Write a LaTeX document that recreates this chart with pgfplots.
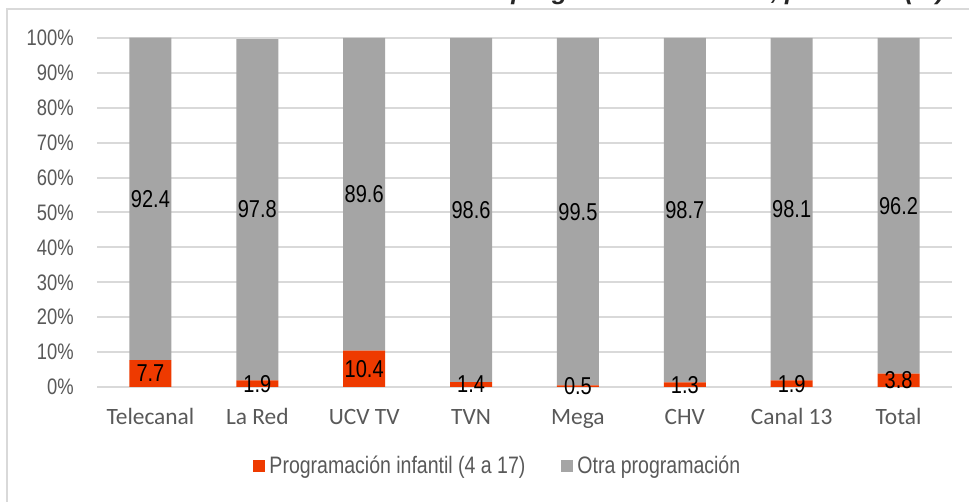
\documentclass[border=0pt]{standalone}
\usepackage{fontspec}
\usepackage{pgfplots}
\pgfplotsset{compat=1.18}
\newfontfamily\narrowfont{Liberation Sans}[FakeStretch=0.82]
\newfontfamily\calfont{Carlito}
\newfontfamily\titlefont{Liberation Sans}
\definecolor{infred}{RGB}{238,58,0}
\definecolor{otragray}{RGB}{165,165,165}
\definecolor{gridgray}{RGB}{217,217,217}
\definecolor{labgray}{RGB}{89,89,89}
\pgfplotsset{
  chartbox/.style={at={(48.5pt,57.5pt)}, anchor=south west,
    scale only axis, width=427.5pt, height=174.5pt,
    xmin=-0.5, xmax=7.5, ymin=0, ymax=100},
}

\begin{document}
\begin{tikzpicture}
\useasboundingbox (0,0) rectangle (484.5pt,251pt);
\fill[white] (0,0) rectangle (484.5pt,251pt);
% chart frame (only left and top edges are visible)
\draw[gridgray, line width=0.8pt] (3.5pt,0) -- (3.5pt,246.5pt) -- (484.5pt,246.5pt);
% title, cut off at the top of the picture
\begin{scope}
\clip (0,0) rectangle (484.5pt,251pt);
\node[anchor=base east, inner sep=0pt, text=black!85,
      font=\titlefont\bfseries\itshape\fontsize{12.7}{15}\selectfont]
  at (472.5pt,251.2pt) {Horas de emisión de programación infantil, por canal (\%)};
\end{scope}
\begin{axis}[
  chartbox,
  ybar stacked, bar width=21pt,
  xtick={0,...,7},
  xticklabels={Telecanal,La Red,UCV TV,TVN,Mega,CHV,Canal 13,Total},
  ytick={0,10,...,100},
  yticklabels={0\%,10\%,20\%,30\%,40\%,50\%,60\%,70\%,80\%,90\%,100\%},
  major tick length=0pt,
  axis line style={draw=none},
  ymajorgrids, grid style={gridgray, line width=1pt},
  yticklabel style={font=\narrowfont\fontsize{11.2}{13}\selectfont, text=labgray,
    anchor=east, inner sep=0pt, xshift=-11.5pt},
  xticklabel style={font=\calfont\fontsize{11.7}{14}\selectfont, text=labgray,
    anchor=base, inner sep=0pt, yshift=-19pt},
  legend style={draw=none, fill=none, at={(0.470,-0.226)}, anchor=center,
    legend columns=2, font=\narrowfont\fontsize{11.9}{14}\selectfont, text=labgray,
    /tikz/every even column/.append style={column sep=16pt}},
  legend image code/.code={\fill[#1] (0pt,-3pt) rectangle (6pt,3pt);},
]
\addplot[fill=infred, draw=none] coordinates {
  (0,7.7) (1,1.9) (2,10.4) (3,1.4) (4,0.5) (5,1.3) (6,1.9) (7,3.8)
};
\addlegendentry{Programación infantil (4 a 17)}
\addplot[fill=otragray, draw=none] coordinates {
  (0,92.4) (1,97.8) (2,89.6) (3,98.6) (4,99.5) (5,98.7) (6,98.1) (7,96.2)
};
\addlegendentry{Otra programación}
\end{axis}
% data labels, centred in each segment
\begin{axis}[
  chartbox, hide axis,
  nodes near coords, point meta=explicit symbolic,
  every node near coord/.append style={anchor=center, inner sep=0pt, text=black,
    font=\narrowfont\fontsize{12.2}{14}\selectfont},
]
\addplot[draw=none, mark=none] coordinates {
  (0,3.85) [7.7] (1,0.95) [1.9] (2,5.2) [10.4] (3,0.7) [1.4]
  (4,0.25) [0.5] (5,0.65) [1.3] (6,0.95) [1.9] (7,1.9) [3.8]
};
\addplot[draw=none, mark=none] coordinates {
  (0,53.85) [92.4] (1,50.95) [97.8] (2,55.2) [89.6] (3,50.7) [98.6]
  (4,50.25) [99.5] (5,50.65) [98.7] (6,50.95) [98.1] (7,51.9) [96.2]
};
\end{axis}
\end{tikzpicture}
\end{document}
